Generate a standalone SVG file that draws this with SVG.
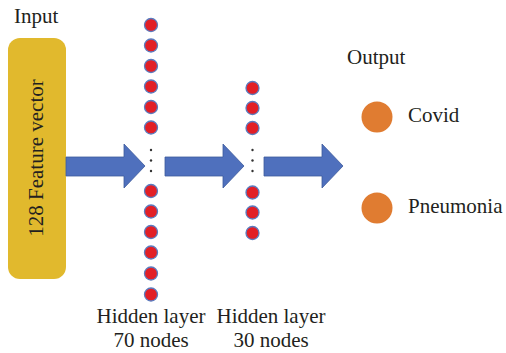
<svg xmlns="http://www.w3.org/2000/svg" width="506" height="353" viewBox="0 0 506 353">
<style>
text{font-family:"Liberation Serif","Times New Roman",serif;font-size:21px;fill:#231f20}
.n{fill:#e21f26;stroke:#5a7bbf;stroke-width:1.3}
.o{fill:#e07c31}
.arr{fill:#4f70bd;stroke:#3d5b9c;stroke-width:0.8}
.d{fill:#333}
</style>
<rect width="506" height="353" fill="#fff"/>
<g id="input">
<text x="14" y="23">Input</text>
<rect x="8" y="38" width="58" height="241" rx="12" ry="12" fill="#e1b92d"/>
<text transform="translate(43,158) rotate(-90)" text-anchor="middle">128 Feature vector</text>
</g>
<g id="connectors">
<polygon class="arr" points="66,157 124,157 124,144 145,166 124,188 124,176 66,176"/>
<polygon class="arr" points="165,157 223,157 223,144 244,166 223,188 223,176 165,176"/>
<polygon class="arr" points="264,157 322,157 322,144 343,166 322,188 322,176 264,176"/>
</g>
<g id="hidden1">
<circle class="n" cx="151" cy="25" r="6.5"/>
<circle class="n" cx="151" cy="45.5" r="6.5"/>
<circle class="n" cx="151" cy="66" r="6.5"/>
<circle class="n" cx="151" cy="86.5" r="6.5"/>
<circle class="n" cx="151" cy="107" r="6.5"/>
<circle class="n" cx="151" cy="127.5" r="6.5"/>
<circle class="d" cx="151" cy="150" r="1.2"/>
<circle class="d" cx="151" cy="160.5" r="1.2"/>
<circle class="d" cx="151" cy="171" r="1.2"/>
<circle class="n" cx="151" cy="191" r="6.5"/>
<circle class="n" cx="151" cy="211.5" r="6.5"/>
<circle class="n" cx="151" cy="232" r="6.5"/>
<circle class="n" cx="151" cy="252.5" r="6.5"/>
<circle class="n" cx="151" cy="273.5" r="6.5"/>
<circle class="n" cx="151" cy="294.5" r="6.5"/>
<text x="151" y="323" text-anchor="middle">Hidden layer</text>
<text x="151" y="347" text-anchor="middle">70 nodes</text>
</g>
<g id="hidden2">
<circle class="n" cx="252.5" cy="88" r="6.5"/>
<circle class="n" cx="252.5" cy="108" r="6.5"/>
<circle class="n" cx="252.5" cy="128" r="6.5"/>
<circle class="d" cx="252.5" cy="150" r="1.2"/>
<circle class="d" cx="252.5" cy="160.5" r="1.2"/>
<circle class="d" cx="252.5" cy="171" r="1.2"/>
<circle class="n" cx="252.5" cy="192.5" r="6.5"/>
<circle class="n" cx="252.5" cy="212.5" r="6.5"/>
<circle class="n" cx="252.5" cy="233" r="6.5"/>
<text x="271" y="323" text-anchor="middle">Hidden layer</text>
<text x="271" y="347" text-anchor="middle">30 nodes</text>
</g>
<g id="output">
<text x="347" y="64">Output</text>
<circle class="o" cx="377" cy="117" r="15.5"/>
<text x="408" y="122">Covid</text>
<circle class="o" cx="377" cy="208" r="15.5"/>
<text x="408" y="213">Pneumonia</text>
</g>
</svg>
